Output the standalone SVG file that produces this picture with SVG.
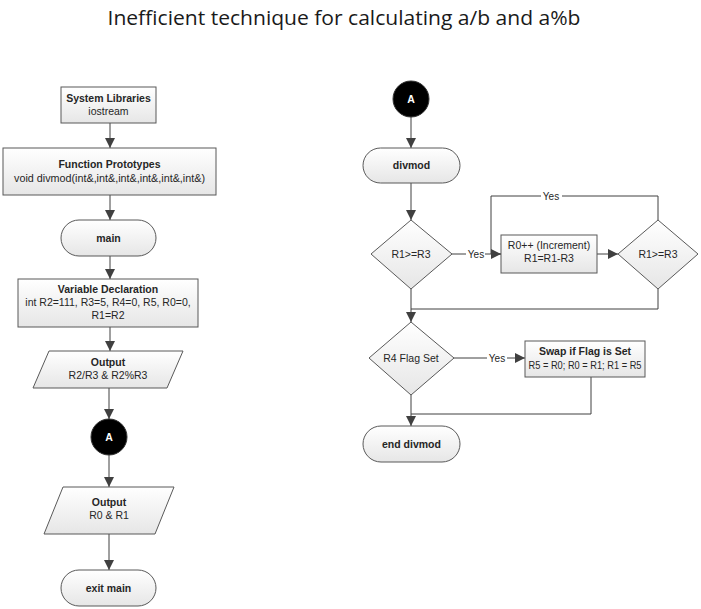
<svg xmlns="http://www.w3.org/2000/svg" width="701" height="609" viewBox="0 0 701 609">
<defs>
<linearGradient id="g" x1="0" y1="0" x2="0" y2="1">
<stop offset="0" stop-color="#ffffff"/>
<stop offset="1" stop-color="#e6e6e6"/>
</linearGradient>
<marker id="arr" viewBox="0 0 10 10" refX="10" refY="5" markerWidth="10" markerHeight="10" markerUnits="userSpaceOnUse" orient="auto">
<path d="M0,0 L10,5 L0,10 z" fill="#404040"/>
</marker>
</defs>
<style>
.s{fill:url(#g);stroke:#595959;stroke-width:1}
.t{font-family:"Liberation Sans",Arial,sans-serif;font-size:10.5px;fill:#262626;text-anchor:middle}
.b{font-weight:bold}
.c{fill:#000;stroke:#333;stroke-width:1}
.w{font-family:"Liberation Sans",Arial,sans-serif;font-size:10.5px;font-weight:bold;fill:#fff;text-anchor:middle}
.l{fill:none;stroke:#404040;stroke-width:1}
.y{font-family:"Liberation Sans",Arial,sans-serif;font-size:10px;fill:#262626;text-anchor:middle}
</style>
<rect width="701" height="609" fill="#fff"/>
<text x="344" y="25" font-family="'Open Sans',sans-serif" font-size="20" fill="#1a1a1a" text-anchor="middle" textLength="473" lengthAdjust="spacingAndGlyphs">Inefficient technique for calculating a/b and a%b</text>

<g id="connectors">
<line class="l" x1="110" y1="123" x2="110" y2="148" marker-end="url(#arr)"/>
<line class="l" x1="110" y1="195" x2="110" y2="220" marker-end="url(#arr)"/>
<line class="l" x1="110" y1="256" x2="110" y2="279" marker-end="url(#arr)"/>
<line class="l" x1="110" y1="327" x2="110" y2="351" marker-end="url(#arr)"/>
<line class="l" x1="109" y1="388" x2="109" y2="419" marker-end="url(#arr)"/>
<line class="l" x1="109" y1="455" x2="109" y2="487" marker-end="url(#arr)"/>
<line class="l" x1="109" y1="534" x2="109" y2="570" marker-end="url(#arr)"/>

<line class="l" x1="411" y1="117" x2="411" y2="148" marker-end="url(#arr)"/>
<line class="l" x1="411" y1="183" x2="411" y2="220" marker-end="url(#arr)"/>
<line class="l" x1="452" y1="254" x2="501" y2="254" marker-end="url(#arr)"/>
<line class="l" x1="597" y1="254" x2="618" y2="254" marker-end="url(#arr)"/>
<polyline class="l" points="658,220 658,196 491,196 491,254 501,254"/>
<polyline class="l" points="658,289 658,309 411,309"/>
<line class="l" x1="411" y1="289" x2="411" y2="322" marker-end="url(#arr)"/>
<line class="l" x1="454" y1="358" x2="525" y2="358" marker-end="url(#arr)"/>
<polyline class="l" points="591,377 591,414 411,414"/>
<line class="l" x1="411" y1="395" x2="411" y2="426" marker-end="url(#arr)"/>

<rect x="466" y="248" width="19" height="12" fill="#fff"/>
<text class="y" x="476" y="258">Yes</text>
<rect x="541" y="190" width="21" height="12" fill="#fff"/>
<text class="y" x="551" y="200">Yes</text>
<rect x="487" y="352" width="20" height="12" fill="#fff"/>
<text class="y" x="497" y="362">Yes</text>
</g>

<g id="sysLib">
<rect class="s" x="61" y="87" width="95" height="36"/>
<text class="t b" x="108.5" y="102">System Libraries</text>
<text class="t" x="108.5" y="115">iostream</text>
</g>
<g id="funcProto">
<rect class="s" x="3" y="148" width="213" height="47"/>
<text class="t b" x="109.5" y="168">Function Prototypes</text>
<text class="t" x="109.5" y="182" textLength="191" lengthAdjust="spacingAndGlyphs">void divmod(int&amp;,int&amp;,int&amp;,int&amp;,int&amp;,int&amp;)</text>
</g>
<g id="main">
<rect class="s" x="61" y="220" width="95" height="36" rx="18"/>
<text class="t b" x="108.5" y="242">main</text>
</g>
<g id="varDecl">
<rect class="s" x="18" y="279" width="180" height="48"/>
<text class="t b" x="108" y="293">Variable Declaration</text>
<text class="t" x="108" y="306">int R2=111, R3=5, R4=0, R5, R0=0,</text>
<text class="t" x="108" y="319">R1=R2</text>
</g>
<g id="output1">
<polygon class="s" points="49,351 183,351 167,388 33,388"/>
<text class="t b" x="108" y="366">Output</text>
<text class="t" x="108" y="379">R2/R3 &amp; R2%R3</text>
</g>
<g id="connA1">
<circle class="c" cx="109" cy="437" r="18"/>
<text class="w" x="109" y="441">A</text>
</g>
<g id="output2">
<polygon class="s" points="63,487 174,487 155,534 44,534"/>
<text class="t b" x="109" y="506">Output</text>
<text class="t" x="109" y="519">R0 &amp; R1</text>
</g>
<g id="exitMain">
<rect class="s" x="61" y="570" width="95" height="36" rx="18"/>
<text class="t b" x="108.5" y="592">exit main</text>
</g>

<g id="connA2">
<circle class="c" cx="411" cy="99" r="18"/>
<text class="w" x="411" y="103">A</text>
</g>
<g id="divmod">
<rect class="s" x="363" y="148" width="97" height="35" rx="17.5"/>
<text class="t b" x="411.5" y="169">divmod</text>
</g>
<g id="cond1">
<polygon class="s" points="411,220 452,254 411,289 371,254"/>
<text class="t" x="411" y="258">R1&gt;=R3</text>
</g>
<g id="incr">
<rect class="s" x="501" y="235" width="96" height="38"/>
<text class="t" x="549" y="249">R0++ (Increment)</text>
<text class="t" x="549" y="262">R1=R1-R3</text>
</g>
<g id="cond2">
<polygon class="s" points="658,220 698,254 658,289 618,254"/>
<text class="t" x="658" y="258">R1&gt;=R3</text>
</g>
<g id="flag">
<polygon class="s" points="411,322 454,358 411,395 369,358"/>
<text class="t" x="411" y="362">R4 Flag Set</text>
</g>
<g id="swap">
<rect class="s" x="525" y="341" width="120" height="36"/>
<text class="t b" x="585" y="355">Swap if Flag is Set</text>
<text class="t" x="585" y="369" textLength="113" lengthAdjust="spacingAndGlyphs">R5 = R0; R0 = R1; R1 = R5</text>
</g>
<g id="endDivmod">
<rect class="s" x="363" y="426" width="97" height="36" rx="18"/>
<text class="t b" x="411.5" y="448">end divmod</text>
</g>
</svg>
